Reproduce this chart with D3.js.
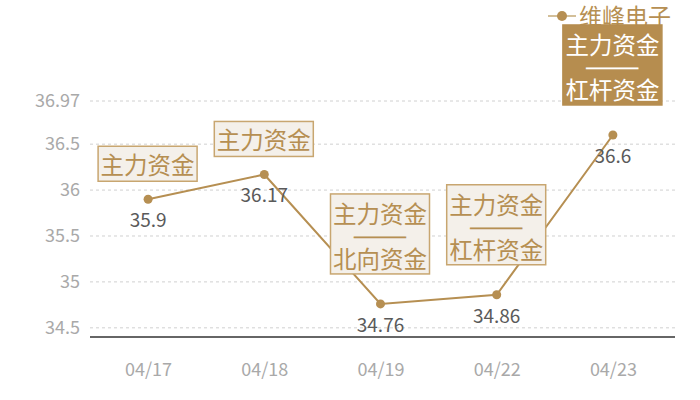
<!DOCTYPE html>
<html><head><meta charset="utf-8">
<script src="https://cdn.jsdelivr.net/npm/d3@7"></script>
<style>html,body{margin:0;padding:0;background:#fff;}svg{display:block;font-family:"Noto Sans CJK SC","Noto Sans",sans-serif;}</style>
</head><body><svg id="c" width="700" height="400"></svg>
<script>
const categories = ["04/17","04/18","04/19","04/22","04/23"];
const values = [35.9, 36.17, 34.76, 34.86, 36.6];
const yTicks = [34.5, 35, 35.5, 36, 36.5, 36.97];
const yDomain = [34.4, 36.97];
const seriesName = "维峰电子";
const annotations = [
  ["主力资金"],
  ["主力资金"],
  ["主力资金","——","北向资金"],
  ["主力资金","——","杠杆资金"],
  ["主力资金","——","杠杆资金"]
];
const highlight = [false,false,false,false,true];

const gold = "#b68f52", boxStroke = "#c8a670", boxFill = "#f4f0ea";
const svg = d3.select("#c");
const x = d3.scalePoint().domain(categories).range([90, 671]).padding(0.5);
const y = d3.scaleLinear().domain(yDomain).range([337, 101]);

// gridlines
svg.append("g").selectAll("line").data(yTicks).join("line")
  .attr("x1", 90).attr("x2", 675)
  .attr("y1", d => y(d)).attr("y2", d => y(d))
  .attr("stroke", "#d0d0d0").attr("stroke-dasharray", "3,3").attr("stroke-width", 1);

// y axis labels
const yAxis = svg.append("g").attr("transform", "translate(80,0)")
  .call(d3.axisLeft(y).tickValues(yTicks).tickSize(0).tickPadding(0).tickFormat(d => String(d)));
yAxis.select(".domain").remove();
yAxis.selectAll("text").attr("fill", "#a9a9a9").attr("font-size", 18).attr("font-family", "'Noto Sans CJK SC','Noto Sans',sans-serif");

// x axis
const xAxis = svg.append("g").attr("transform", "translate(0,337)")
  .call(d3.axisBottom(x).tickSize(0).tickPadding(26));
xAxis.select(".domain").remove();
xAxis.selectAll("text").attr("fill", "#a9a9a9").attr("font-size", 18).attr("font-family", "'Noto Sans CJK SC','Noto Sans',sans-serif");
svg.append("line").attr("x1", 90).attr("x2", 675).attr("y1", y(yDomain[0])).attr("y2", y(yDomain[0]))
  .attr("stroke", "#333").attr("stroke-width", 1.5);

// line
svg.append("path").datum(values)
  .attr("d", d3.line().x((d,i) => x(categories[i])).y(d => y(d)))
  .attr("fill", "none").attr("stroke", gold).attr("stroke-width", 2);
svg.append("g").selectAll("circle").data(values).join("circle")
  .attr("cx", (d,i) => x(categories[i])).attr("cy", d => y(d)).attr("r", 4.5).attr("fill", gold);

// value labels
svg.append("g").selectAll("text").data(values).join("text")
  .attr("x", (d,i) => x(categories[i])).attr("y", d => y(d) + 28)
  .attr("text-anchor", "middle").attr("font-size", 19).attr("fill", "#5a5a5a")
  .text(d => String(d));

// annotations
const rowH = 22.5, bw = 99;
annotations.forEach((lines, i) => {
  const cx = x(categories[i]) - 0.5, py = y(values[i]);
  const multi = lines.length > 1;
  const bh = multi ? 80 : 35;
  const bottom = py - (multi ? 30 : 18);
  const top = bottom - bh;
  const g = svg.append("g");
  const hl = highlight[i];
  g.append("rect").attr("x", cx - bw/2).attr("y", top).attr("width", bw).attr("height", bh)
    .attr("fill", hl ? "#b68d4f" : boxFill).attr("stroke", hl ? "#b68d4f" : boxStroke).attr("stroke-width", 1.5);
  const firstY = top + (multi ? 19 : 17.5);
  lines.forEach((t, k) => {
    const tx = g.append("text").attr("x", cx).attr("y", firstY + k * rowH)
      .attr("text-anchor", "middle").attr("dominant-baseline", "central")
      .attr("font-size", 23.5).attr("fill", hl ? "#fff" : gold).text(t);
    if (t === "——") tx.attr("textLength", 52).attr("lengthAdjust", "spacingAndGlyphs")
      .attr("font-size", 10).attr("stroke", hl ? "#fff" : gold).attr("stroke-width", 1.1);
  });
});

// legend (drawn under highlight box)
const lg = svg.insert("g", ":first-child");
lg.append("line").attr("x1", 548).attr("x2", 576).attr("y1", 16).attr("y2", 16).attr("stroke", "#d3bf99").attr("stroke-width", 2);
lg.append("circle").attr("cx", 562).attr("cy", 16).attr("r", 5).attr("fill", gold);
lg.append("text").attr("x", 579).attr("y", 15).attr("dominant-baseline", "central")
  .attr("font-size", 23).attr("fill", gold).text(seriesName);
</script></body></html>
